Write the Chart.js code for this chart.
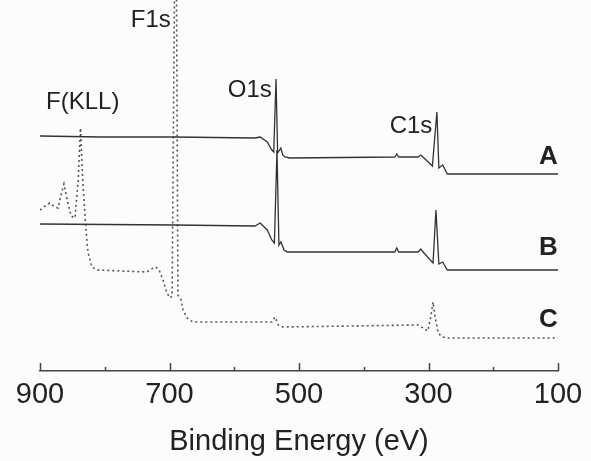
<!DOCTYPE html>
<html>
<head>
<meta charset="utf-8">
<script src="https://cdn.jsdelivr.net/npm/chart.js@4/dist/chart.umd.min.js"></script>
<style>
  html, body { margin: 0; padding: 0; background: #fcfcfc; }
  #wrap { width: 591px; height: 461px; }
</style>
</head>
<body>
<div id="wrap"><canvas id="xps"></canvas></div>
<script>
// binding energy (eV) and intensity (arb. units)
const energyA = [900, 807, 692, 568, 560, 549, 542, 539, 535.5, 533, 528, 525, 522, 514, 352, 349, 346, 316, 312, 307, 294, 287, 284, 278, 271, 100];
const countsA = [235, 234, 234, 233, 234, 229, 221, 219, 292, 218, 223, 216, 214, 213, 214, 217, 214, 214, 216, 213, 205, 259, 203, 206, 197, 197];

const energyB = [900, 692, 568, 560, 549, 542, 538, 534, 531, 528, 523, 518, 352, 349, 346, 316, 312, 307, 293, 288.5, 284, 278, 271, 100];
const countsB = [147, 146, 145, 148, 141, 131, 128, 221, 126, 129, 121, 119, 119, 123, 119, 119, 122, 118, 108, 161, 107, 109, 101, 101];

const energyC = [900, 892, 885, 877, 872, 868, 863, 858, 852, 846, 841, 837.5, 834, 829, 826, 820, 812, 735, 725, 721, 716, 710, 704, 699, 696, 692.3, 689.2, 687, 682, 679, 673, 664, 542, 537, 532, 525, 316, 301, 296, 293, 290, 285, 279, 271, 100];
const countsC = [161, 165, 168, 164, 163, 175, 187, 171, 155, 153, 191, 243, 191, 141, 119, 104, 101, 99, 103, 104, 101, 91, 78, 73, 75, 381, 381, 76, 71, 61, 53, 49, 49, 54, 46, 44, 46, 40, 56, 69, 55, 38, 34, 33, 33];

const xTicks = [900, 700, 500, 300, 100];

const peakNames = ['F1s', 'F(KLL)', 'O1s', 'C1s'];
const peakAtEnergy = [729, 834, 576, 327];
const peakAtLevel = [351, 269, 281, 245];

const seriesNames = ['A', 'B', 'C'];
const seriesAtLevel = [214, 123, 51];

const FONT = '"Liberation Sans", Arial, Helvetica, sans-serif';
const INK = '#333';

function pts(xs, ys) {
  return xs.map((x, i) => ({ x: x, y: ys[i] }));
}

// inward ticks on the energy axis + text labels
const decor = {
  id: 'decor',
  afterDraw(chart) {
    const ctx = chart.ctx;
    const xs = chart.scales.x;
    const ys = chart.scales.y;
    const base = xs.top;
    ctx.save();
    ctx.strokeStyle = '#444';
    ctx.lineWidth = 1.5;
    for (let v = 900; v >= 100; v -= 100) {
      const px = Math.round(xs.getPixelForValue(v)) + 0.5;
      const len = xTicks.includes(v) ? 8 : 4;
      ctx.beginPath();
      ctx.moveTo(px, base);
      ctx.lineTo(px, base - len);
      ctx.stroke();
    }
    ctx.fillStyle = '#222';
    ctx.textAlign = 'center';
    ctx.textBaseline = 'middle';
    ctx.font = '24px ' + FONT;
    peakNames.forEach((t, i) => {
      ctx.fillText(t, xs.getPixelForValue(peakAtEnergy[i]), ys.getPixelForValue(peakAtLevel[i]));
    });
    ctx.font = 'bold 26px ' + FONT;
    seriesNames.forEach((t, i) => {
      ctx.fillText(t, xs.getPixelForValue(115), ys.getPixelForValue(seriesAtLevel[i]));
    });
    ctx.restore();
  }
};

new Chart(document.getElementById('xps'), {
  type: 'line',
  data: {
    datasets: [
      { label: 'A', data: pts(energyA, countsA), borderColor: INK, borderWidth: 1.3 },
      { label: 'B', data: pts(energyB, countsB), borderColor: INK, borderWidth: 1.3 },
      { label: 'C', data: pts(energyC, countsC), borderColor: '#555', borderWidth: 1.6, borderDash: [2, 3] }
    ]
  },
  options: {
    responsive: true,
    maintainAspectRatio: false,
    animation: false,
    elements: { point: { radius: 0 }, line: { tension: 0 } },
    layout: { padding: { left: 40, right: 33, top: 0, bottom: 0 } },
    plugins: { legend: { display: false }, tooltip: { enabled: false } },
    scales: {
      x: {
        type: 'linear',
        reverse: true,
        min: 100,
        max: 900,
        grid: { display: false, drawTicks: false },
        border: { display: true, color: '#444', width: 1.5 },
        ticks: {
          stepSize: 200,
          padding: 7,
          color: '#222',
          font: { family: FONT, size: 29 },
          maxRotation: 0,
          callback: (v) => v
        },
        title: {
          display: true,
          text: 'Binding Energy (eV)',
          color: '#222',
          font: { family: FONT, size: 29 },
          padding: { top: 5, bottom: 1.4 }
        }
      },
      y: { display: false, min: 0, max: 371 }
    }
  },
  plugins: [decor]
});
</script>
</body>
</html>
